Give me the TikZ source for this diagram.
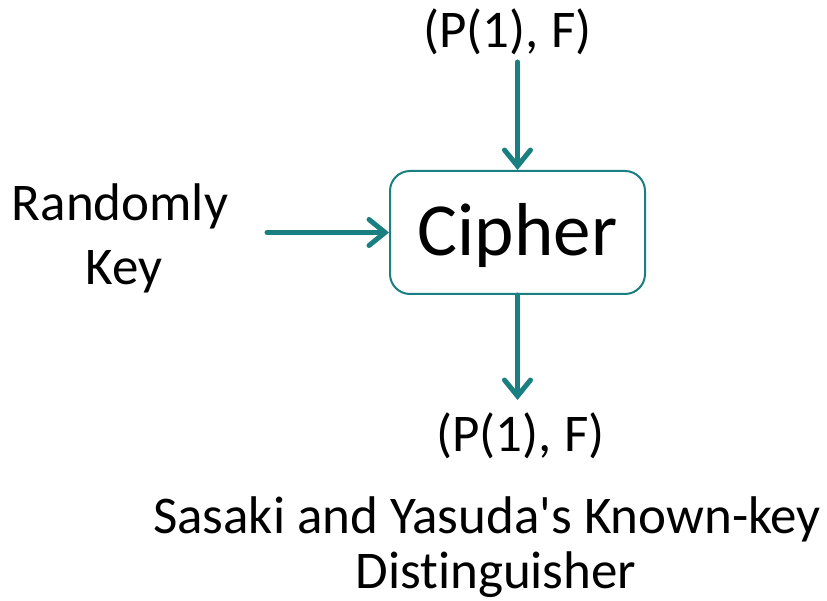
\documentclass[tikz,border=0pt]{standalone}
\usepackage{fontspec}
\setmainfont{Carlito}[Ligatures={NoCommon}]
\usetikzlibrary{arrows.meta}
\definecolor{tealc}{HTML}{1A7F80}
\begin{document}
\begin{tikzpicture}[x=1pt,y=-1pt,
  lbl/.style={inner sep=0pt, align=center, font=\fontsize{53}{64}\selectfont},
  arr/.style={draw=tealc, line width=5pt, line cap=round,
    -{Straight Barb[length=16pt,width=26pt,line cap=round]}},
  box/.style={draw=tealc, line width=2pt, rounded corners=20pt,
    minimum width=255pt, minimum height=123pt, inner sep=0pt,
    text height=47pt, text depth=0pt, font=\fontsize{75}{80}\selectfont}]
\useasboundingbox (0,0) rectangle (827,601);
\node[box] (c) at (517.5,232.5) {Cipher};
\node[lbl, anchor=base] (t) at (507.5,48) {(P(1), F)};
\node[lbl, anchor=base] (b) at (520.5,451) {(P(1), F)};
\node[lbl, anchor=base] (k) at (120,285) {Randomly\\\hspace*{8pt}Key};
\node[lbl, anchor=base, font=\fontsize{53}{55}\selectfont] (s) at (487,588) {Sasaki and Yasuda\textquotesingle s Known-key\\\hspace*{18pt}Distinguisher};
\coordinate (a1) at (517.5,62);
\coordinate (a2) at (267,232.5);
\coordinate (a3) at (517.5,400);
\draw[arr] (a1) -- (c.north);
\draw[arr] (a2) -- (c.west);
\draw[arr] (c.south) -- (a3);
\end{tikzpicture}
\end{document}
